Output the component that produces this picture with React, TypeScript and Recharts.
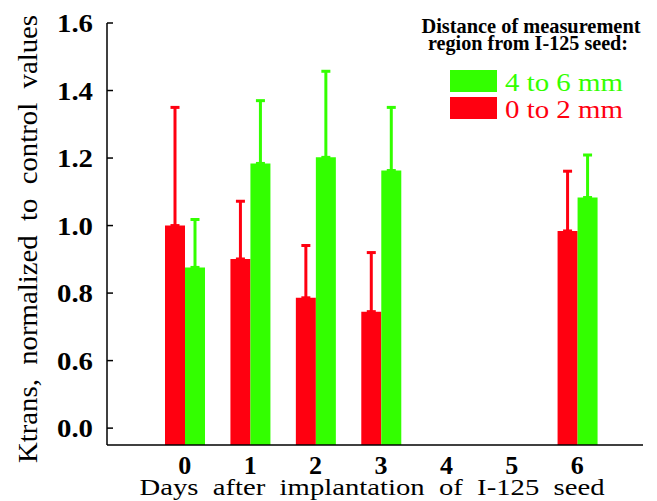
import { BarChart, Bar, XAxis, YAxis, ErrorBar, Legend, Label } from "recharts";

const DAYS = ["0", "1", "2", "3", "4", "5", "6"];
// 0 to 2 mm (red) and 4 to 6 mm (green); days 4 and 5 have no data
const NEAR_VALUES = [1.0, 0.901, 0.786, 0.745, null, null, 0.984];
const NEAR_ERRORS = [0.35, 0.171, 0.155, 0.175, null, null, 0.177];
const FAR_VALUES = [0.876, 1.184, 1.202, 1.163, null, null, 1.083];
const FAR_ERRORS = [0.142, 0.186, 0.255, 0.187, null, null, 0.126];

// axis is broken: the lowest tick sits where 0.4 would be but reads 0.0
const Y_TICKS = [0.4, 0.6, 0.8, 1.0, 1.2, 1.4, 1.6];
const Y_TICK_LABELS = ["0.0", "0.6", "0.8", "1.0", "1.2", "1.4", "1.6"];

const RED = "#ff0010";
const GREEN = "#33ff00";
const SERIF = "'Liberation Serif', 'Times New Roman', serif";
const AXIS_X = 107;
const font = (size: number, bold = false) => ({
  fontFamily: SERIF,
  fontSize: size,
  fontWeight: bold ? 700 : 400,
  whiteSpace: "pre" as const,
});

const data = DAYS.map((day, i) => ({
  day,
  near: NEAR_VALUES[i],
  nearErr: NEAR_ERRORS[i] == null ? null : [0, NEAR_ERRORS[i]],
  far: FAR_VALUES[i],
  farErr: FAR_ERRORS[i] == null ? null : [0, FAR_ERRORS[i]],
}));

function YTick({ y, payload }: any) {
  const idx = Y_TICKS.indexOf(payload.value);
  return (
    <g>
      <line x1={AXIS_X} y1={y} x2={AXIS_X + 6} y2={y} stroke="#000" strokeWidth={1.5} />
      <text
        x={57}
        y={y + 9}
        style={font(26, true)}
        fill="#000"
        textLength={36}
        lengthAdjust="spacingAndGlyphs"
      >
        {Y_TICK_LABELS[idx]}
      </text>
    </g>
  );
}

function XTick({ x, payload }: any) {
  return (
    <text x={x} y={474} textAnchor="middle" style={font(26, true)} fill="#000">
      {payload.value}
    </text>
  );
}

function LegendBox({ payload }: any) {
  const items = [...(payload || [])].reverse();
  return (
    <div style={{ position: "relative", height: 0 }}>
      <svg width={657} height={130} style={{ position: "absolute", left: 0, top: 0, display: "block" }}>
        <text x={531} y={33} textAnchor="middle" style={font(22, true)} textLength={219} lengthAdjust="spacingAndGlyphs">
          Distance of measurement
        </text>
        <text x={528} y={50} textAnchor="middle" style={font(22, true)} textLength={200} lengthAdjust="spacingAndGlyphs">
          region from I-125 seed:
        </text>
        {items.map((it: any, i: number) => (
          <g key={it.value}>
            <rect x={450} y={70 + i * 27} width={47} height={22} fill={it.color} />
            <text x={505} y={91 + i * 27} style={font(26)} fill={it.color} textLength={118} lengthAdjust="spacingAndGlyphs">
              {it.value}
            </text>
          </g>
        ))}
      </svg>
    </div>
  );
}

export default function App() {
  return (
    <div style={{ position: "absolute", left: 0, top: 0, width: 657, height: 501, background: "#fff" }}>
      <BarChart
        width={657}
        height={501}
        data={data}
        margin={{ top: 23, right: 14, bottom: 0, left: 0 }}
        barGap={0}
        barSize={20}
      >
        <XAxis
          dataKey="day"
          height={56}
          padding={{ left: 45, right: 33 }}
          tickLine={false}
          axisLine={{ stroke: "#000", strokeWidth: 1.5 }}
          tick={<XTick />}
          interval={0}
        >
          <Label
            content={() => (
              <text x={372} y={495} textAnchor="middle" style={font(24)} fill="#000" textLength={465} lengthAdjust="spacingAndGlyphs">
                Days  after  implantation  of  I-125  seed
              </text>
            )}
          />
        </XAxis>
        <YAxis
          width={107}
          domain={[0.35, 1.6]}
          ticks={Y_TICKS}
          allowDataOverflow
          tickLine={false}
          axisLine={{ stroke: "#000", strokeWidth: 1.5 }}
          tick={<YTick />}
          interval={0}
        >
          <Label
            content={() => (
              <text
                x={37}
                y={239}
                textAnchor="middle"
                transform="rotate(-90, 37, 239)"
                style={font(27)}
                fill="#000"
                textLength={448}
                lengthAdjust="spacingAndGlyphs"
              >
                Ktrans,  normalized  to  control  values
              </text>
            )}
          />
        </YAxis>
        <Legend
          content={<LegendBox />}
          wrapperStyle={{ position: "absolute", left: 0, top: 0, width: 657, height: 0 }}
        />
        <Bar dataKey="near" name="0 to 2 mm" fill={RED} isAnimationActive={false}>
          <ErrorBar dataKey="nearErr" direction="y" width={4.5} stroke={RED} strokeWidth={3} />
        </Bar>
        <Bar dataKey="far" name="4 to 6 mm" fill={GREEN} isAnimationActive={false}>
          <ErrorBar dataKey="farErr" direction="y" width={4.5} stroke={GREEN} strokeWidth={3} />
        </Bar>
      </BarChart>
    </div>
  );
}
